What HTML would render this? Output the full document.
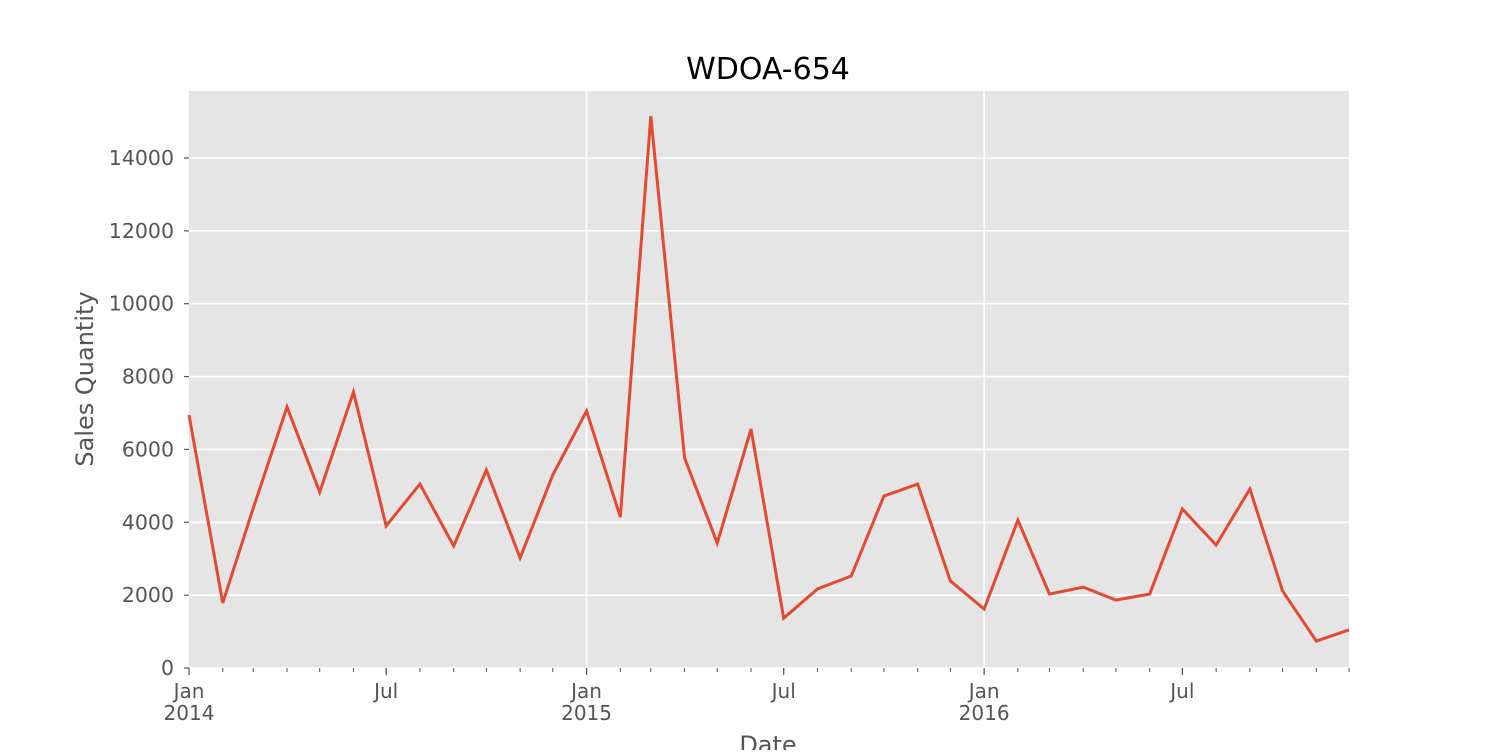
<!DOCTYPE html>
<html><head><meta charset="utf-8"><style>
body{margin:0;background:#fff;font-family:"DejaVu Sans","Liberation Sans",sans-serif}
svg text{font-family:"DejaVu Sans","Liberation Sans",sans-serif}
</style></head><body>
<svg id="chart" width="1500" height="750" xmlns="http://www.w3.org/2000/svg">
<rect x="189" y="91" width="1160" height="577" fill="#e5e5e5"/>
<g id="grid"></g>
<g id="axes"></g>
<polyline id="line" fill="none" stroke="#e24a33" stroke-width="3"/>
<text x="768" y="79" font-size="30" text-anchor="middle" fill="#000">WDOA-654</text>
<text transform="translate(93,379) rotate(-90)" font-size="24" text-anchor="middle" fill="#555">Sales Quantity</text>
<text x="768" y="753" font-size="24" text-anchor="middle" fill="#555">Date</text>
</svg>
<script>
const months = ["2014-01","2014-02","2014-03","2014-04","2014-05","2014-06","2014-07","2014-08","2014-09","2014-10","2014-11","2014-12","2015-01","2015-02","2015-03","2015-04","2015-05","2015-06","2015-07","2015-08","2015-09","2015-10","2015-11","2015-12","2016-01","2016-02","2016-03","2016-04","2016-05","2016-06","2016-07","2016-08","2016-09","2016-10","2016-11","2016-12"];
const sales = [6945,1785,4390,7165,4830,7575,3900,5050,3350,5435,3020,5300,7055,4145,15150,5765,3430,6560,1370,2170,2525,4720,5050,2390,1620,4060,2030,2220,1865,2030,4365,3375,4915,2115,740,1045];
const yTicks = [0,2000,4000,6000,8000,10000,12000,14000];
const xMajor = ["2014-01","2014-07","2015-01","2015-07","2016-01","2016-07"];
const xMajorLabels = [["Jan","2014"],["Jul"],["Jan","2015"],["Jul"],["Jan","2016"],["Jul"]];

const NS="http://www.w3.org/2000/svg";
const t0=Date.UTC(2014,0,1), t1=Date.UTC(2016,11,1);
function xs(m){const [y,mo]=m.split("-").map(Number);return 189+(Date.UTC(y,mo-1,1)-t0)/(t1-t0)*1160;}
function ys(v){return 668-v/14000*510;}
function mk(tag,attrs,parent){const e=document.createElementNS(NS,tag);for(const k in attrs)e.setAttribute(k,attrs[k]);parent.appendChild(e);return e;}
const grid=document.getElementById("grid"), axes=document.getElementById("axes");
yTicks.forEach(v=>{
  const g=mk("line",{x1:189,x2:1349,y1:ys(v),y2:ys(v),stroke:"#fff","stroke-width":1.6},grid);
  
  
  const tk=mk("line",{x1:184,x2:189,y1:ys(v),y2:ys(v),stroke:"#555","stroke-width":1.2},axes);
  
  
  const t=mk("text",{x:174,y:ys(v)+7,"font-size":20.5,"text-anchor":"end",fill:"#555"},axes);
  t.textContent=v;
  
  
});
months.forEach(m=>{
  const tk=mk("line",{x1:xs(m),x2:xs(m),y1:668,y2:672,stroke:"#555","stroke-width":1},axes);
  
  
});
xMajor.forEach((m,i)=>{
  const x=xs(m);
  if(xMajorLabels[i].length>1 && i>0){
    const g=mk("line",{x1:x,x2:x,y1:91,y2:668,stroke:"#fff","stroke-width":1.6},grid);
    
    
  }
  const tk=mk("line",{x1:x,x2:x,y1:668,y2:675,stroke:"#555","stroke-width":1.2},axes);
  
  
  xMajorLabels[i].forEach((s,j)=>{
    const t=mk("text",{x:x,y:698+j*22,"font-size":20,"text-anchor":"middle",fill:"#555"},axes);
    t.textContent=s;
    
    
  });
});
document.getElementById("line").setAttribute("points",months.map((m,i)=>xs(m)+","+ys(sales[i])).join(" "));
</script>
</body></html>
